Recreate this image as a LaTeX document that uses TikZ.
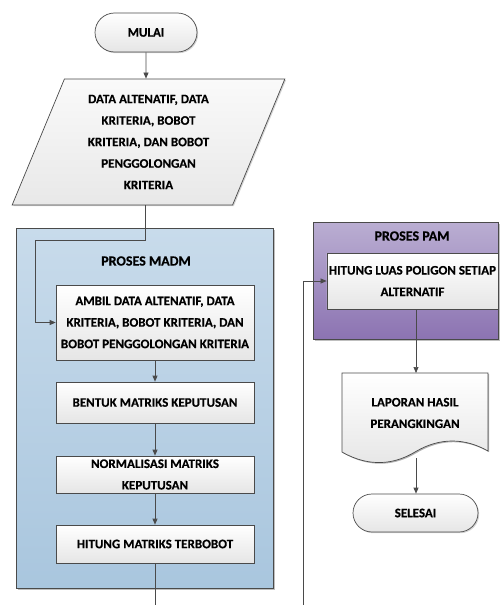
\documentclass[tikz,border=0pt]{standalone}
\usepackage{fontspec}
\setmainfont{Carlito}[FakeBold=0.4]
\usetikzlibrary{shapes.geometric,shapes.misc,arrows.meta,shadows,calc}

\definecolor{linegray}{HTML}{4A4A4A}
\definecolor{blueTop}{HTML}{C8DBEB}
\definecolor{blueBot}{HTML}{A9C6DE}
\definecolor{purTop}{HTML}{BAAED2}
\definecolor{purBot}{HTML}{8C73B2}

\tikzset{
  base/.style={draw=linegray, line width=0.7pt, inner sep=2pt, align=center,
    font=\fontsize{13}{21.5}\selectfont\bfseries, text=black},
  procbox/.style={base, rectangle, top color=white, bottom color=black!10,
    drop shadow={shadow xshift=1.2pt, shadow yshift=-1.2pt, opacity=0.35}},
  termbox/.style={base, rounded rectangle, top color=white, bottom color=black!10,
    drop shadow={shadow xshift=1.2pt, shadow yshift=-1.2pt, opacity=0.35}},
  iobox/.style={base, trapezium, trapezium left angle=68.4, trapezium right angle=111.6,
    trapezium stretches=true, top color=black!2, bottom color=black!9,
    drop shadow={shadow xshift=1.2pt, shadow yshift=-1.2pt, opacity=0.35}},
  groupbox/.style={draw=linegray, line width=0.7pt, rectangle, inner sep=0pt,
    drop shadow={shadow xshift=1.8pt, shadow yshift=-1.8pt, opacity=0.5}},
  grouptitle/.style={font=\fontsize{14}{16}\selectfont\bfseries, text=black},
  flow/.style={draw=linegray, line width=0.7pt, -{Triangle[length=6pt,width=5pt]}},
  plainline/.style={draw=linegray, line width=0.7pt},
}

\begin{document}
\begin{tikzpicture}[x=1pt, y=-1pt]
\useasboundingbox (0,0) rectangle (499,605);

% process groups
\node[groupbox, top color=blueTop, bottom color=blueBot,
      minimum width=257pt, minimum height=360pt] (madm) at (144.5,408) {};
\node[grouptitle] (madmT) at (146,261) {PROSES MADM};

\node[groupbox, top color=purTop, bottom color=purBot,
      minimum width=185pt, minimum height=117pt] (pam) at (405.5,280.5) {};
\node[grouptitle] (pamT) at (412,236) {PROSES PAM};

% start and input
\node[termbox, minimum width=106pt, minimum height=39pt] (mulai) at (146,32.5) {MULAI};
\node[iobox, minimum width=273pt, minimum height=126pt] (data) at (148.5,142)
  {DATA ALTENATIF, DATA\\KRITERIA, BOBOT\\KRITERIA, DAN BOBOT\\PENGGOLONGAN\\KRITERIA};

% MADM steps
\node[procbox, minimum width=198pt, minimum height=75pt] (ambil) at (155,322.5)
  {AMBIL DATA ALTENATIF, DATA\\KRITERIA, BOBOT KRITERIA, DAN\\BOBOT PENGGOLONGAN KRITERIA};
\node[procbox, minimum width=198pt, minimum height=41pt] (bentuk) at (155,402.5)
  {BENTUK MATRIKS KEPUTUSAN};
\node[procbox, minimum width=198pt, minimum height=37pt] (normal) at (155,474.5)
  {NORMALISASI MATRIKS\\KEPUTUSAN};
\node[procbox, minimum width=198pt, minimum height=38pt] (hitung) at (155,544)
  {HITUNG MATRIKS TERBOBOT};

% PAM step
\node[procbox, minimum width=159pt, minimum height=56pt] (luas) at (412.5,281)
  {HITUNG LUAS POLIGON SETIAP\\ALTERNATIF};

% report (document shape)
\fill[black, opacity=0.3] (343.2,374.2) -- (489.2,374.2) -- (489.2,452.2)
  .. controls (466.2,439.2) and (441.2,438.2) .. (416.2,453.2)
  .. controls (396.2,465.2) and (371.2,469.2) .. (343.2,453.2) -- cycle;
\path[draw=linegray, line width=0.7pt, top color=white, bottom color=black!10]
  (342,373) -- (488,373) -- (488,451)
  .. controls (465,438) and (440,437) .. (415,452)
  .. controls (395,464) and (370,468) .. (342,452) -- cycle;
\node[base, draw=none, minimum width=146pt, minimum height=80pt] (laporan) at (415,413)
  {LAPORAN HASIL\\PERANGKINGAN};
\coordinate (lapTop) at (416,373);
\coordinate (lapOut) at (416,458);

% end
\node[termbox, minimum width=129pt, minimum height=38pt] (selesai) at (415.5,513) {SELESAI};

% connectors
\coordinate (dataOut) at (145,205);
\coordinate (pageA) at (155,605);
\coordinate (pageB) at (303,605);

\draw[flow] (mulai) -- (data.north -| mulai);
\draw[flow] (dataOut) -- ++(0,35) -| ($(ambil.west)+(-20,0)$) -- (ambil.west);
\draw[flow] (ambil) -- (bentuk);
\draw[flow] (bentuk) -- (normal);
\draw[flow] (normal) -- (hitung);
\draw[plainline] (hitung.south) -- (pageA);
\draw[flow] (pageB) |- (luas.west);
\draw[flow] (luas.south -| lapTop) -- (lapTop);
\draw[flow] (lapOut) -- (selesai.north -| lapOut);
\end{tikzpicture}
\end{document}
